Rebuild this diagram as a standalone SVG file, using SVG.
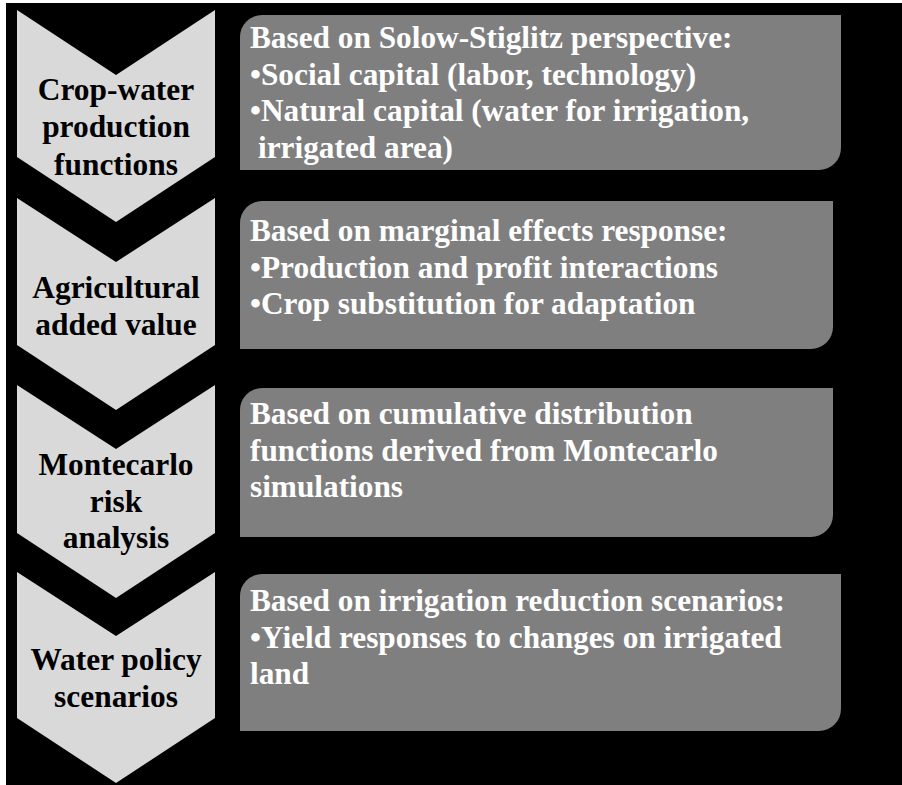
<svg xmlns="http://www.w3.org/2000/svg" width="902" height="785" viewBox="0 0 902 785">
<style>
.chev{fill:#d9d9d9}
.box{fill:#7f7f7f}
.ct{font-family:"Liberation Serif","Times New Roman",serif;font-weight:bold;font-size:31.4px;fill:#000;text-anchor:middle}
.bt{font-family:"Liberation Serif","Times New Roman",serif;font-weight:bold;font-size:31.3px;fill:#fff}
</style>
<rect x="0" y="0" width="902" height="785" fill="#fff"/>
<rect x="6" y="3" width="896" height="782" fill="#000"/>
<g id="step1">
<path class="chev" d="M17,10 L116,75 L215,10 L215,157 L116,222 L17,157 Z"/>
<text class="ct"><tspan x="116" y="100">Crop-water</tspan><tspan x="116" y="137">production</tspan><tspan x="116" y="175">functions</tspan></text>
</g>
<g id="step2">
<path class="chev" d="M17,198 L116,262 L215,198 L215,345 L116,410 L17,345 Z"/>
<text class="ct"><tspan x="116" y="298">Agricultural</tspan><tspan x="116" y="335">added value</tspan></text>
</g>
<g id="step3">
<path class="chev" d="M17,385 L116,449 L215,385 L215,533 L116,598 L17,533 Z"/>
<text class="ct"><tspan x="116" y="475">Montecarlo</tspan><tspan x="116" y="512">risk</tspan><tspan x="116" y="548">analysis</tspan></text>
</g>
<g id="step4">
<path class="chev" d="M17,572 L116,636 L215,572 L215,718 L116,783 L17,718 Z"/>
<text class="ct"><tspan x="116" y="670">Water policy</tspan><tspan x="116" y="707">scenarios</tspan></text>
</g>
<g id="box1">
<path class="box" d="M262,15 H841 V148 A22,22 0 0 1 819,170 H240 V37 A22,22 0 0 1 262,15 Z"/>
<text class="bt"><tspan x="250" y="48">Based on Solow-Stiglitz perspective:</tspan><tspan x="250" y="85">•Social capital (labor, technology)</tspan><tspan x="250" y="121">•Natural capital (water for irrigation,</tspan><tspan x="258" y="158">irrigated area)</tspan></text>
</g>
<g id="box2">
<path class="box" d="M262,201 H833 V327 A22,22 0 0 1 811,349 H240 V223 A22,22 0 0 1 262,201 Z"/>
<text class="bt"><tspan x="250" y="241">Based on marginal effects response:</tspan><tspan x="250" y="278">•Production and profit interactions</tspan><tspan x="250" y="314">•Crop substitution for adaptation</tspan></text>
</g>
<g id="box3">
<path class="box" d="M262,388 H833 V515 A22,22 0 0 1 811,537 H240 V410 A22,22 0 0 1 262,388 Z"/>
<text class="bt"><tspan x="250" y="424">Based on cumulative distribution</tspan><tspan x="250" y="461">functions derived from Montecarlo</tspan><tspan x="250" y="497">simulations</tspan></text>
</g>
<g id="box4">
<path class="box" d="M262,574 H841 V709 A22,22 0 0 1 819,731 H240 V596 A22,22 0 0 1 262,574 Z"/>
<text class="bt"><tspan x="250" y="611">Based on irrigation reduction scenarios:</tspan><tspan x="250" y="648">•Yield responses to changes on irrigated</tspan><tspan x="250" y="684">land</tspan></text>
</g>
<g id="connectors"></g>
</svg>
